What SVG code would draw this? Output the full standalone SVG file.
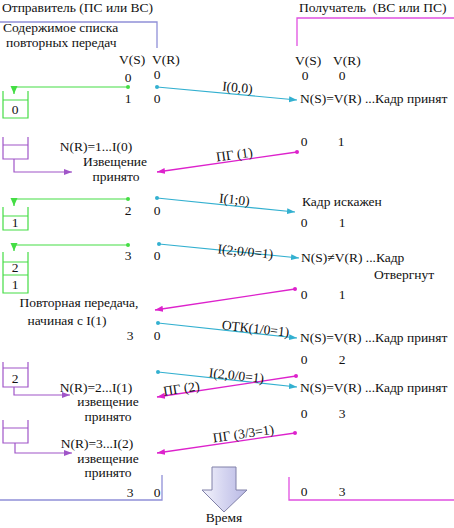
<svg xmlns="http://www.w3.org/2000/svg" width="454" height="528" viewBox="0 0 454 528">
<style>
text{font-family:"Liberation Serif","Times New Roman","DejaVu Serif",serif;font-size:13.5px;fill:#111}
.m{text-anchor:middle}
.g{stroke:#44dd44;fill:none;stroke-width:1.2}
.c{stroke:#33b0d0;fill:none;stroke-width:1.2}
.p{stroke:#dd22cc;fill:none;stroke-width:1.3}
.v{stroke:#a055c8;fill:none;stroke-width:1.2}
.bl{stroke:#9090d8;fill:none;stroke-width:1.3}
.bm{stroke:#e050e0;fill:none;stroke-width:1.3}
.box-g{stroke:#44dd44;fill:none;stroke-width:1.2}
.box-v{stroke:#a055c8;fill:none;stroke-width:1.2}
</style>
<defs>
<marker id="ag" markerUnits="userSpaceOnUse" markerWidth="8" markerHeight="8" viewBox="0 0 8 8" refX="8" refY="4" orient="auto"><path d="M0,0.5 L8,4 L0,7.5 Z" fill="#44dd44"/></marker>
<marker id="ac" markerUnits="userSpaceOnUse" markerWidth="8" markerHeight="8" viewBox="0 0 8 8" refX="8" refY="4" orient="auto"><path d="M0,1 L8,4 L0,7 Z" fill="#33b0d0"/></marker>
<marker id="ap" markerUnits="userSpaceOnUse" markerWidth="8" markerHeight="8" viewBox="0 0 8 8" refX="8" refY="4" orient="auto"><path d="M0,1 L8,4 L0,7 Z" fill="#dd22cc"/></marker>
<marker id="av" markerUnits="userSpaceOnUse" markerWidth="8" markerHeight="8" viewBox="0 0 8 8" refX="8" refY="4" orient="auto"><path d="M0,1 L8,4 L0,7 Z" fill="#a055c8"/></marker>
<linearGradient id="arrowfill" x1="0" y1="0" x2="1" y2="0">
<stop offset="0" stop-color="#f4f4fc"/>
<stop offset="0.5" stop-color="#d4d4f0"/>
<stop offset="1" stop-color="#b8b8e4"/>
</linearGradient>
</defs>
<g font-family="'Liberation Serif', 'Times New Roman', serif">
<g id="sender">
<text x="2" y="12">Отправитель (ПС или ВС)</text>
<path class="bl" d="M0,22 H157 V48"/>
<text x="3" y="32">Содержимое списка</text>
<text x="6" y="47">повторных передач</text>
<text x="119" y="64">V(S)</text>
<text x="152" y="64">V(R)</text>
<text class="m" x="128" y="82">0</text><text class="m" x="157" y="79">0</text>
<text class="m" x="128" y="103">1</text><text class="m" x="157" y="103">0</text>
<text class="m" x="128" y="215">2</text><text class="m" x="157" y="215">0</text>
<text class="m" x="128" y="260">3</text><text class="m" x="157" y="260">0</text>
<text class="m" x="130" y="340">3</text><text class="m" x="157" y="340">0</text>
<path class="bl" d="M0,500 H162 V475"/>
<text class="m" x="130" y="497">3</text><text class="m" x="157" y="497">0</text>
</g>

<g id="receiver">
<text x="299" y="12" xml:space="preserve">Получатель  (ВС или ПС)</text>
<path class="bm" d="M297,46 V18 H454"/>
<text x="295" y="65">V(S)</text>
<text x="333" y="65">V(R)</text>
<text class="m" x="305" y="80">0</text><text class="m" x="342" y="80">0</text>
<text x="300" y="103">N(S)=V(R) ...Кадр принят</text>
<text class="m" x="304" y="146">0</text><text class="m" x="341" y="146">1</text>
<text x="302" y="206">Кадр искажен</text>
<text class="m" x="304" y="227">0</text><text class="m" x="342" y="227">1</text>
<text x="301" y="262">N(S)≠V(R) ...Кадр</text>
<text x="374" y="279">Отвергнут</text>
<text class="m" x="304" y="299">0</text><text class="m" x="342" y="299">1</text>
<text x="300" y="342">N(S)=V(R) ...Кадр принят</text>
<text class="m" x="304" y="364">0</text><text class="m" x="342" y="364">2</text>
<text x="300" y="392">N(S)=V(R) ...Кадр принят</text>
<text class="m" x="304" y="418">0</text><text class="m" x="342" y="418">3</text>
<path class="bm" d="M289,477 V500 H454"/>
<text class="m" x="304" y="496">0</text><text class="m" x="342" y="496">3</text>
</g>

<g id="list-0">
<path class="box-g" d="M3,91 V118 H28 V91 M3,100 H28"/>
<text class="m" x="15" y="114">0</text>
</g>
<g id="list-empty-1">
<path class="box-v" d="M3,137 V159 H28 V137 M3,145 H28"/>
</g>
<g id="ack-1">
<text class="m" x="96" y="151">N(R)=1...I(0)</text>
<text class="m" x="115" y="166">Извещение</text>
<text class="m" x="116" y="181">принято</text>
</g>
<g id="list-1">
<path class="box-g" d="M3,207 V230 H28 V207 M3,216 H28"/>
<text class="m" x="15" y="227">1</text>
</g>
<g id="list-2-1">
<path class="box-g" d="M3,252 V293 H28 V252 M3,262 H28 M3,275 H28"/>
<text class="m" x="15" y="272">2</text>
<text class="m" x="15" y="289">1</text>
</g>
<g id="retransmit">
<text class="m" x="79" y="307">Повторная передача,</text>
<text class="m" x="67" y="325">начиная с I(1)</text>
</g>
<g id="list-2">
<path class="box-v" d="M3,362 V387 H28 V362 M3,368 H28"/>
<text class="m" x="15" y="383">2</text>
</g>
<g id="ack-2">
<text class="m" x="96" y="392">N(R)=2...I(1)</text>
<text class="m" x="108" y="406">извещение</text>
<text class="m" x="108" y="421">принято</text>
</g>
<g id="list-empty-2">
<path class="box-v" d="M3,420 V443 H28 V420 M3,428 H28"/>
</g>
<g id="ack-3">
<text class="m" x="97" y="448">N(R)=3...I(2)</text>
<text class="m" x="108" y="463">извещение</text>
<text class="m" x="108" y="477">принято</text>
</g>
<g id="time">
<polygon points="212,467 236,467 236,490 247,490 224,512 202,490 212,490" fill="url(#arrowfill)" stroke="#8080a8" stroke-width="1"/>
<text class="m" x="224" y="522">Время</text>
</g>

<g id="connectors">
<path class="g" d="M128,87 H14 V94" marker-end="url(#ag)"/>
<circle cx="128" cy="87" r="2" fill="#44dd44"/>
<path class="g" d="M128,199 H14 V206" marker-end="url(#ag)"/>
<circle cx="128" cy="199" r="2" fill="#44dd44"/>
<path class="g" d="M128,245 H14 V251" marker-end="url(#ag)"/>
<circle cx="128" cy="245" r="2" fill="#44dd44"/>

<path class="c" d="M157,87 L297,100" marker-end="url(#ac)"/>
<circle cx="157" cy="87" r="2" fill="#33b0d0"/>
<path class="c" d="M157,198 L295,212" marker-end="url(#ac)"/>
<circle cx="157" cy="198" r="2" fill="#33b0d0"/>
<path class="c" d="M159,244 L299,258" marker-end="url(#ac)"/>
<circle cx="159" cy="244" r="2" fill="#33b0d0"/>
<path class="c" d="M158,323 L297,338" marker-end="url(#ac)"/>
<circle cx="158" cy="323" r="2" fill="#33b0d0"/>
<path class="c" d="M158,372 L297,387" marker-end="url(#ac)"/>
<circle cx="158" cy="372" r="2" fill="#33b0d0"/>

<path class="p" d="M297,152 L157,172" marker-end="url(#ap)"/>
<circle cx="297" cy="152" r="2" fill="#dd22cc"/>
<path class="p" d="M295,289 L155,310" marker-end="url(#ap)"/>
<circle cx="295" cy="289" r="2" fill="#dd22cc"/>
<path class="p" d="M296,376 L157,397" marker-end="url(#ap)"/>
<circle cx="296" cy="376" r="2" fill="#dd22cc"/>
<path class="p" d="M295,433 L157,453" marker-end="url(#ap)"/>
<circle cx="295" cy="433" r="2" fill="#dd22cc"/>

<path class="v" d="M14,159 V172 H72" marker-end="url(#av)"/>
<path class="v" d="M14,387 V395 H70" marker-end="url(#av)"/>
<path class="v" d="M15,443 V453 H72" marker-end="url(#av)"/>

<text class="m" transform="translate(237,92) rotate(5.3)">I(0,0)</text>
<text class="m" transform="translate(235,159) rotate(-8.1)">ПГ (1)</text>
<text class="m" transform="translate(234,204) rotate(5.8)">I(1;0)</text>
<text class="m" transform="translate(245,256) rotate(5.7)">I(2;0/0=1)</text>
<text class="m" transform="translate(255,333) rotate(6.2)">ОТК(1/0=1)</text>
<text class="m" transform="translate(236,380) rotate(6.2)">I(2,0/0=1)</text>
<text class="m" transform="translate(182,393) rotate(-9)">ПГ (2)</text>
<text class="m" transform="translate(244,438) rotate(-8.2)">ПГ (3/3=1)</text>
</g>
</g>
</svg>
